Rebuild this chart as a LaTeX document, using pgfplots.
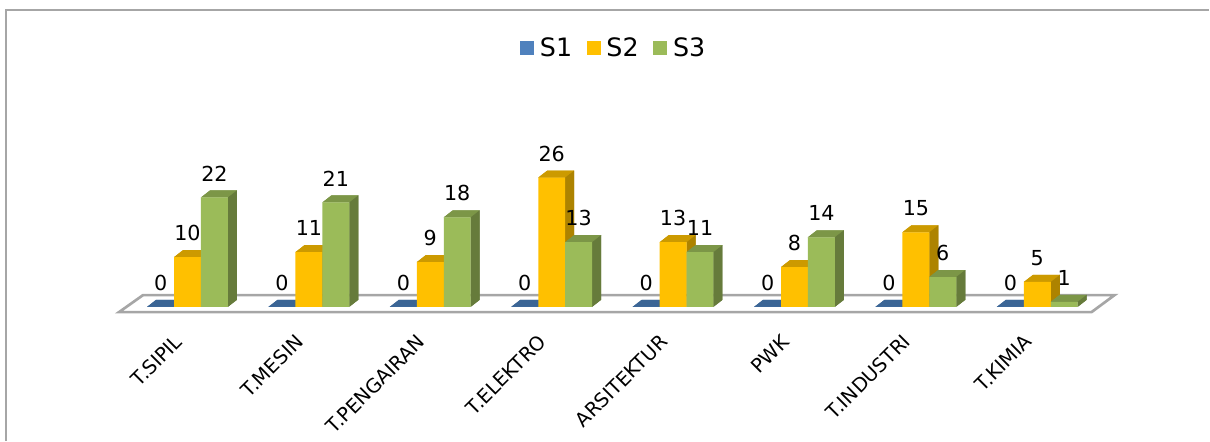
\documentclass[border=0pt]{standalone}
\usepackage{fontspec}
\setmainfont{DejaVu Sans}
\usepackage{pgfplots}
\usepackage{pgfplotstable}
\pgfplotsset{compat=1.18}

\definecolor{sOneF}{HTML}{4F81BD}
\definecolor{sOneT}{HTML}{3B6595}
\definecolor{sTwoF}{HTML}{FFC000}
\definecolor{sTwoT}{HTML}{CC9A00}
\definecolor{sTwoS}{HTML}{AD8300}
\definecolor{sThrF}{HTML}{9BBB59}
\definecolor{sThrT}{HTML}{7C9647}
\definecolor{sThrS}{HTML}{667B3B}
\definecolor{frameC}{HTML}{A6A6A6}

% data
\pgfplotstableread{
x S1 S2 S3
0 0 10 22
1 0 11 21
2 0 9 18
3 0 26 13
4 0 13 11
5 0 8 14
6 0 15 6
7 0 5 1
}\datatab

% 1 px = 0.75pt; half bar width, depth, pt per y unit
\def\hw{10.09}
\def\dx{6.75}
\def\dy{5.25}
\def\yu{3.7275}

% top and side faces of a bar, mark sits at the middle of the front top edge
\newcommand{\declbar}[3]{%
  \pgfdeclareplotmark{#1}{%
    \pgfmathsetmacro\hh{\val*\yu}%
    \pgfmathsetmacro\xa{-\hw}\pgfmathsetmacro\xb{-\hw+\dx}%
    \pgfmathsetmacro\xc{\hw+\dx}\pgfmathsetmacro\yb{\dy-\hh}\pgfmathsetmacro\yc{-\hh}%
    \pgfsetfillcolor{#2}\pgfsetstrokeopacity{0}%
    \pgfpathmoveto{\pgfqpoint{\xa pt}{0pt}}%
    \pgfpathlineto{\pgfqpoint{\xb pt}{\dy pt}}%
    \pgfpathlineto{\pgfqpoint{\xc pt}{\dy pt}}%
    \pgfpathlineto{\pgfqpoint{\hw pt}{0pt}}%
    \pgfpathclose\pgfusepathqfill
    \pgfsetfillcolor{#3}%
    \pgfpathmoveto{\pgfqpoint{\hw pt}{0pt}}%
    \pgfpathlineto{\pgfqpoint{\xc pt}{\dy pt}}%
    \pgfpathlineto{\pgfqpoint{\xc pt}{\yb pt}}%
    \pgfpathlineto{\pgfqpoint{\hw pt}{\yc pt}}%
    \pgfpathclose\pgfusepathqfill
  }}
\declbar{boxS1}{sOneT}{sOneT}
\declbar{boxS2}{sTwoT}{sTwoS}
\declbar{boxS3}{sThrT}{sThrS}

\pgfplotsset{
  faces/.style={forget plot, only marks, scatter, mark=#1,
    visualization depends on={rawy \as \val},
    scatter/@pre marker code/.code={},
    scatter/@post marker code/.code={\pgfuseplotmark{#1}}},
  front/.style 2 args={ybar, bar width=20.18pt, bar shift=#2, draw=none, fill=#1,
    nodes near coords,
    every node near coord/.append style={anchor=center, xshift=#2, yshift=18pt, text=black,
      font=\fontsize{15.5}{17}\selectfont}},
}

\begin{document}
\begin{tikzpicture}
  \begin{scope}[x=0.75pt,y=-0.75pt]
    \path[use as bounding box] (0,0) rectangle (1210,441);
    \draw[frameC, line width=1.4pt] (6,441) -- (6,9.5) -- (1209,9.5);
    \draw[frameC, line width=2pt, fill=white, line join=miter]
      (119,312) -- (143,295) -- (1114.5,295) -- (1091.5,312) -- cycle;
  \end{scope}
  \begin{axis}[
      at={(0pt,-234pt)}, anchor=south west,
      scale only axis, width=907.5pt, height=234pt,
      xmin=-1.5445, xmax=8.4226,
      ymin=-1.067, ymax=61.71,
      axis line style={draw=none},
      ytick=\empty,
      xtick={0,...,7},
      xticklabels={T.SIPIL,T.MESIN,T.PENGAIRAN,T.ELEKTRO,ARSITEKTUR,PWK,T.INDUSTRI,T.KIMIA},
      major tick length=0pt,
      x tick label style={rotate=45, anchor=east, yshift=-9pt, xshift=-15.3pt,
        font=\fontsize{14.6}{16}\selectfont},
      /pgf/number format/assume math mode=true,
      clip marker paths=true,
      legend style={at={(0.5075,0.846)}, anchor=center, draw=none, fill=none,
        legend columns=3, font=\fontsize{19}{21}\selectfont,
        /tikz/every odd column/.append style={column sep=2.25pt},
        /tikz/every even column/.append style={column sep=9pt}},
      legend image code/.code={\fill[#1] (0pt,-5.25pt) rectangle (10.5pt,5.25pt);},
    ]
    \addplot[faces=boxS1] table[x expr=\thisrow{x}-0.2216, y=S1] {\datatab};
    \addplot[front={sOneF}{-20.18pt}] table[x=x, y=S1] {\datatab};
    \addlegendentry{S1}
    \addplot[faces=boxS2] table[x=x, y=S2] {\datatab};
    \addplot[front={sTwoF}{0pt}] table[x=x, y=S2] {\datatab};
    \addlegendentry{S2}
    \addplot[faces=boxS3] table[x expr=\thisrow{x}+0.2216, y=S3] {\datatab};
    \addplot[front={sThrF}{20.18pt}] table[x=x, y=S3] {\datatab};
    \addlegendentry{S3}
  \end{axis}
\end{tikzpicture}
\end{document}
